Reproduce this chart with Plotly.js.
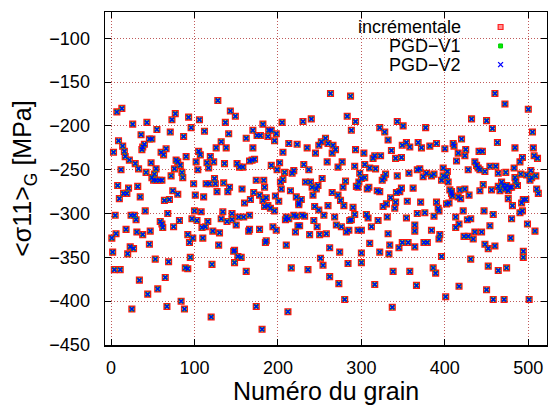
<!DOCTYPE html>
<html>
<head>
<meta charset="utf-8">
<script src="https://cdn.plot.ly/plotly-3.0.1.min.js"></script>
<style>html,body{margin:0;padding:0;background:#fff;}#chart{width:548px;height:405px;}</style>
</head>
<body>
<div id="chart"></div>
<script>
// Grain numbers and <sigma11>_G values [MPa]
const grain = [
7,13,77,93,73,26,43,96,55,71,36,87,46,49,9,40,14,38,66,37,3,16,60,63,17,90,78,80,83,22,48,29,33,12,54,76,42,52,72,85,86,
49,51,54,58,61,8,32,21,74,15,19,80,10,35,70,64,41,5,24,28,30,68,59,61,82,62,75,18,31,38,47,6,1,92,98,94,23,27,46,20,2,
53,69,95,89,92,4,11,65,34,56,44,84,67,88,25,99,101,100,97,103,
106,112,128,143,149,137,141,132,126,138,105,107,119,115,123,102,117,136,104,151,154,158,114,118,125,124,135,142,140,127,
111,157,108,116,134,132,139,145,145,113,109,150,153,159,122,130,110,129,147,148,152,156,148,121,162,120,174,181,
166,160,167,171,178,184,174,183,182,186,188,184,191,196,197,166,172,169,192,199,162,170,170,175,179,188,182,189,192,196,198,
165,166,178,185,186,194,198,
205,230,240,263,287,283,293,288,206,213,223,235,245,249,252,257,260,266,269,265,259,277,272,293,292,202,231,237,208,219,217,
206,203,204,215,233,239,253,241,246,248,242,222,228,225,225,201,265,272,275,281,278,294,244,249,260,279,290,292,210,213,209,
219,222,229,232,255,243,247,268,270,276,286,288,282,285,226,224,221,238,250,258,210,262,274,251,254,284,216,236,262,273,280,
212,296,300,
303,304,304,306,308,300,300,314,316,310,317,323,322,328,332,336,341,348,343,350,349,354,358,368,372,377,382,329,327,325,309,
307,319,322,343,335,326,330,340,341,342,346,348,355,357,362,367,370,374,378,384,387,371,367,376,387,331,320,312,354,332,364,
364,384,310,334,345,349,356,364,375,379,322,333,386,389,338,358,316,366,337,298,300,296,297,
390,390,392,393,394,393,396,398,400,398,396,403,402,404,406,408,409,408,418,402,405,401,410,411,416,414,420,425,424,432,450,
457,460,472,463,441,445,436,438,440,442,428,448,454,461,473,483,484,490,493,491,424,416,419,429,446,442,456,464,466,468,470,
472,476,474,478,480,484,485,487,476,481,492,494,490,493,422,447,458,413,427,431,480,417,413,454,423,428,434,436,444,448,452,
460,479,494,494,431,452,474,464,417,450,458,471,464,
500,505,506,507,511,503,498,509,504,502,510,512,497,499,508,501
];
const sigma11 = [
-184,-180,-186,-190,-193,-198,-196,-202,-204,-207,-210,-212,-215,-215,-217,-221,-223,-224,-226,-227,-230,-229,-230,-233,-235,-235,-239,-241,-245,-239,-242,-243,-249,-250,-249,-249,-253,-255,-257,-253,-259,
-259,-262,-262,-262,-262,-268,-269,-271,-274,-277,-277,-278,-283,-281,-284,-285,-297,-302,-302,-302,-307,-300,-309,-312,-308,-316,-315,-318,-321,-324,-320,-323,-328,-324,-328,-333,-338,-340,-335,-346,-344,
-352,-355,-350,-362,-363,-364,-364,-373,-376,-386,-392,-400,-406,-409,-409,-266,-279,-297,-306,-308,
-193,-206,-171,-183,-189,-196,-209,-218,-225,-225,-229,-233,-235,-242,-241,-241,-248,-243,-250,-243,-247,-247,-266,-266,-266,-260,-265,-270,-275,-275,
-281,-272,-298,-309,-298,-306,-309,-300,-307,-315,-316,-313,-304,-304,-320,-322,-328,-336,-343,-342,-349,-350,-356,-358,-366,-418,-406,-432,
-302,-288,-284,-276,-279,-270,-262,-262,-285,-282,-291,-292,-294,-297,-280,-240,-238,-239,-245,-250,-214,-225,-205,-211,-211,-212,-198,-205,-205,-217,-209,
-320,-318,-318,-333,-331,-315,-319,
-196,-195,-192,-163,-166,-189,-195,-205,-230,-220,-221,-225,-231,-222,-218,-214,-220,-222,-227,-231,-241,-241,-247,-227,-246,-242,-244,-250,-253,-251,-254,
-261,-264,-272,-274,-264,-264,-260,-270,-272,-268,-279,-281,-284,-288,-290,-286,-276,-279,-285,-263,-270,-269,-292,-296,-291,-291,-293,-301,-304,-306,-307,
-302,-303,-302,-303,-302,-308,-315,-304,-313,-315,-308,-307,-321,-319,-314,-314,-321,-324,-324,-323,-336,-339,-344,-351,-359,-357,-362,-364,-372,-380,-398,
-412,-319,-319,
-231,-244,-259,-301,-305,-345,-356,-237,-234,-248,-249,-234,-202,-207,-216,-228,-237,-236,-195,-200,-222,-219,-224,-219,-225,-202,-223,-255,-259,-262,-270,
-272,-274,-275,-257,-282,-292,-289,-294,-287,-276,-275,-271,-286,-254,-271,-250,-249,-258,-254,-257,-255,-287,-300,-299,-303,-304,-308,-315,-305,-323,-313,
-320,-319,-334,-336,-339,-333,-333,-338,-333,-333,-344,-346,-362,-368,-366,-366,-381,-382,-407,-254,-260,-270,-264,
-220,-287,-294,-297,-324,-329,-349,-248,-226,-257,-262,-252,-258,-264,-273,-275,-280,-277,-273,-289,-288,-395,-220,-223,-231,-240,-215,-227,-234,-192,-194,
-203,-163,-175,-219,-229,-229,-241,-245,-248,-250,-250,-252,-246,-246,-253,-248,-225,-241,-236,-255,-272,-281,-283,-279,-267,-274,-273,-269,-274,-264,-268,
-272,-274,-268,-270,-270,-259,-263,-268,-283,-291,-288,-284,-299,-297,-297,-297,-301,-304,-307,-306,-306,-312,-316,-314,-326,-326,-329,-321,-321,-335,-340,
-337,-328,-343,-350,-352,-360,-362,-365,-383,-387,-398,-398,-254,
-181,-207,-225,-234,-237,-251,-256,-257,-259,-262,-272,-277,-284,-312,-320,-398
];
const seriesNames = ['incrémentale', 'PGD\u2212V1', 'PGD\u2212V2'];
const xTicks = [0, 100, 200, 300, 400, 500];
const yTicks = [-450, -400, -350, -300, -250, -200, -150, -100];

const FONT = 'Liberation Sans, Arial, Helvetica, sans-serif';

const traces = [
  {x: grain, y: sigma11, name: seriesNames[0], type: 'scatter', mode: 'markers',
   marker: {symbol: 'square-open', size: 5.5, color: '#ff1010', line: {width: 1.6, color: '#ff1010'}}},
  {x: grain, y: sigma11, name: seriesNames[1], type: 'scatter', mode: 'markers',
   marker: {symbol: 'x', size: 5, color: '#00dd00', line: {width: 0}}},
  {x: grain, y: sigma11, name: seriesNames[2], type: 'scatter', mode: 'markers',
   marker: {symbol: 'x-thin-open', size: 4, color: '#0000ff', line: {width: 1.4, color: '#0000ff'}}}
];

// legend drawn gnuplot-style (text right-aligned, sample on the right)
const legY = [0.955, 0.898, 0.842];
const sx = 0.895, dx = 0.0055, dy = 0.0075;
const shapes = [
  {type: 'rect', xref: 'paper', yref: 'paper', x0: 0.502, x1: 0.977, y0: 0.814, y1: 1.0,
   fillcolor: '#ffffff', line: {width: 0}, layer: 'between'},
  {type: 'rect', xref: 'paper', yref: 'paper', x0: sx - dx, x1: sx + dx, y0: legY[0] - dy, y1: legY[0] + dy,
   fillcolor: '#ff9090', line: {width: 1.2, color: '#ff2020'}},
  {type: 'rect', xref: 'paper', yref: 'paper', x0: sx - dx * 0.8, x1: sx + dx * 0.8, y0: legY[1] - dy * 0.8, y1: legY[1] + dy * 0.8,
   fillcolor: '#00ee00', line: {width: 1, color: '#00cc00'}},
  {type: 'path', xref: 'paper', yref: 'paper',
   path: `M ${sx - dx} ${legY[2] - dy} L ${sx + dx} ${legY[2] + dy} M ${sx - dx} ${legY[2] + dy} L ${sx + dx} ${legY[2] - dy}`,
   line: {width: 1.3, color: '#0000ff'}}
];
const annotations = seriesNames.map((n, i) => ({
  xref: 'paper', yref: 'paper', x: 0.81, y: legY[i], xanchor: 'right', yanchor: 'middle',
  text: n, showarrow: false, font: {family: FONT, size: 18, color: '#000'}
}));

const layout = {
  width: 548, height: 405,
  margin: {l: 105, r: 1, t: 12, b: 60, pad: 0},
  paper_bgcolor: '#fff', plot_bgcolor: '#fff',
  showlegend: false,
  font: {family: FONT, size: 18, color: '#000'},
  xaxis: {
    range: [-7.2, 522.4], tickvals: xTicks, ticktext: xTicks.map(String),
    ticks: 'inside', ticklen: 6, tickwidth: 1, tickcolor: '#000',
    showline: true, linecolor: '#000', linewidth: 1.5, mirror: 'ticks',
    showgrid: true, gridcolor: '#c05a5a', griddash: '1px,2px', gridwidth: 1,
    zeroline: false, ticklabelstandoff: 6,
    tickfont: {family: FONT, size: 18, color: '#000'},
    title: {text: 'Numéro du grain', font: {family: FONT, size: 25, color: '#000'}, standoff: 5}
  },
  yaxis: {
    range: [-450, -70], tickvals: yTicks,
    ticks: 'inside', ticklen: 6, tickwidth: 1, tickcolor: '#000',
    showline: true, linecolor: '#000', linewidth: 1.5, mirror: 'ticks',
    showgrid: true, gridcolor: '#c05a5a', griddash: '1px,2px', gridwidth: 1,
    zeroline: false, ticklabelstandoff: 10,
    tickfont: {family: FONT, size: 18, color: '#000'},
    title: {text: '&lt;σ11&gt;<sub>G</sub> [MPa]', font: {family: FONT, size: 25, color: '#000'}, standoff: 10}
  },
  shapes: shapes,
  annotations: annotations
};

Plotly.newPlot('chart', traces, layout, {staticPlot: true, displayModeBar: false});
</script>
</body>
</html>
